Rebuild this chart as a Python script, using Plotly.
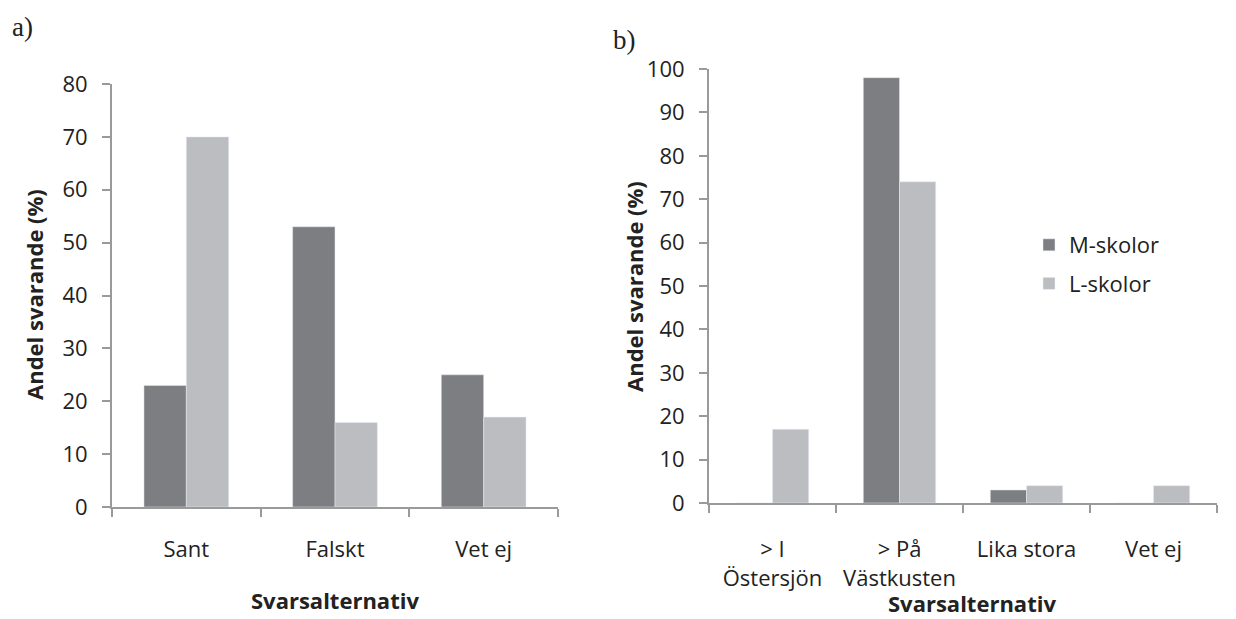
import plotly.graph_objects as go

cats_a = ["Sant", "Falskt", "Vet ej"]
m_a = [23, 53, 25]
l_a = [70, 16, 17]

cats_b = ["> I<br>Östersjön", "> På<br>Västkusten", "Lika stora", "Vet ej"]
m_b = [0, 98, 3, 0]
l_b = [17, 74, 4, 4]

yticks_a = list(range(0, 81, 10))
yticks_b = list(range(0, 101, 10))

DARK = "#7d7e82"
LIGHT = "#bcbdc1"
AXIS = "#9a9a9a"
FONT = "Open Sans"
TXT = "#222222"
W, H = 1236, 619
OFF = 8  # page body margin


def px(x):
    return (x - OFF) / W


def py(y):
    return 1 - (y - OFF) / H


fig = go.Figure()
fig.add_trace(go.Bar(x=cats_a, y=m_a, marker_color=DARK, name="M-skolor", xaxis="x", yaxis="y",
                     showlegend=False))
fig.add_trace(go.Bar(x=cats_a, y=l_a, marker_color=LIGHT, name="L-skolor", xaxis="x", yaxis="y",
                     showlegend=False))
fig.add_trace(go.Bar(x=cats_b, y=m_b, marker_color=DARK, name="M-skolor", xaxis="x2", yaxis="y2",
                     legendgroup="m"))
fig.add_trace(go.Bar(x=cats_b, y=l_b, marker_color=LIGHT, name="L-skolor", xaxis="x2", yaxis="y2",
                     legendgroup="l"))

tickfont = dict(family=FONT, size=22, color=TXT)
common_x = dict(type="category", showline=True, linecolor=AXIS, linewidth=2, ticks="outside",
                tickson="boundaries", ticklen=8, tickcolor=AXIS, tickwidth=2, tickfont=tickfont,
                showgrid=False, zeroline=False, automargin=False)
common_y = dict(showline=True, linecolor=AXIS, linewidth=2, ticks="outside", ticklen=8,
                tickcolor=AXIS, tickwidth=2, tickfont=tickfont, showgrid=False, zeroline=False,
                automargin=False, ticklabelstandoff=10)

fig.update_layout(
    width=W, height=H, autosize=False,
    margin=dict(l=0, r=0, t=0, b=0, pad=0),
    paper_bgcolor="white", plot_bgcolor="white",
    barmode="group", bargap=0.43, bargroupgap=0,
    xaxis=dict(domain=[px(112), px(558)], anchor="y", ticklabelstandoff=22, **common_x),
    yaxis=dict(domain=[py(507), py(84)], anchor="x", range=[0, 80], tickvals=yticks_a, **common_y),
    xaxis2=dict(domain=[px(709), px(1217)], anchor="y2", ticklabelstandoff=26, **common_x),
    yaxis2=dict(domain=[py(503), py(69)], anchor="x2", range=[0, 100], tickvals=yticks_b, **common_y),
    legend=dict(x=px(1029), y=py(224), xanchor="left", yanchor="top",
                font=dict(family=FONT, size=22, color=TXT), tracegroupgap=7,
                itemwidth=30, bgcolor="rgba(0,0,0,0)"),
    font=dict(family=FONT),
)

title_font = dict(family=FONT, size=22, color=TXT)
annos = [
    dict(text="<b>Andel svarande (%)</b>", x=px(34), y=py(295), textangle=-90),
    dict(text="<b>Andel svarande (%)</b>", x=px(634), y=py(287), textangle=-90),
    dict(text="<b>Svarsalternativ</b>", x=px(335), y=py(600)),
    dict(text="<b>Svarsalternativ</b>", x=px(972), y=py(603)),
]
for a in annos:
    fig.add_annotation(xref="paper", yref="paper", showarrow=False, xanchor="center", yanchor="middle",
                       font=title_font, **a)

serif = dict(family="Liberation Serif", size=27, color=TXT)
fig.add_annotation(text="a)", xref="paper", yref="paper", x=px(10), y=py(27), xanchor="left",
                   yanchor="middle", showarrow=False, font=serif)
fig.add_annotation(text="b)", xref="paper", yref="paper", x=px(611), y=py(40), xanchor="left",
                   yanchor="middle", showarrow=False, font=serif)

fig.write_html("out.html")
